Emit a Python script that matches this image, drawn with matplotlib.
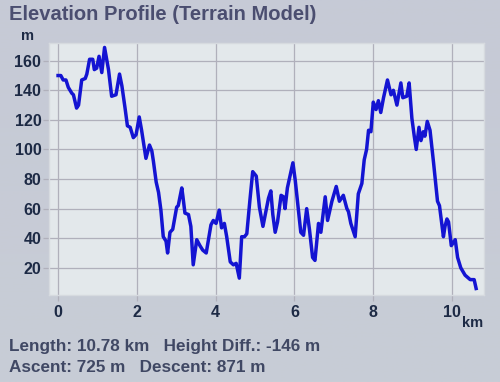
import numpy as np
import matplotlib
matplotlib.use("Agg")
import matplotlib.pyplot as plt

distance_km = [0.0, 0.07, 0.13, 0.2, 0.26, 0.35, 0.39, 0.47, 0.52, 0.6, 0.69, 0.73, 0.8, 0.88,
               0.92, 0.98, 1.04, 1.11, 1.18, 1.24, 1.28, 1.36, 1.47, 1.56, 1.62, 1.70, 1.76,
               1.83, 1.91, 1.98, 2.06, 2.12, 2.23, 2.32, 2.38, 2.42, 2.49, 2.55, 2.61, 2.67,
               2.74, 2.78, 2.84, 2.91, 3.01, 3.05, 3.14, 3.17, 3.22, 3.31, 3.37, 3.43, 3.52,
               3.60, 3.67, 3.76, 3.81, 3.88, 3.94, 4.01, 4.09, 4.15, 4.22, 4.28, 4.37, 4.45,
               4.52, 4.60, 4.66, 4.73, 4.79, 4.87, 4.94, 5.03, 5.11, 5.20, 5.28, 5.34, 5.40,
               5.45, 5.51, 5.57, 5.66, 5.72, 5.76, 5.82, 5.96, 6.02, 6.10, 6.16, 6.23, 6.31,
               6.38, 6.46, 6.52, 6.61, 6.67, 6.78, 6.84, 6.95, 7.06, 7.14, 7.24, 7.33, 7.37,
               7.43, 7.54, 7.62, 7.71, 7.77, 7.83, 7.88, 7.94, 8.00, 8.07, 8.13, 8.19, 8.26,
               8.36, 8.45, 8.51, 8.60, 8.70, 8.75, 8.85, 8.91, 8.98, 9.04, 9.09, 9.16, 9.21,
               9.27, 9.31, 9.37, 9.44, 9.53, 9.63, 9.68, 9.78, 9.82, 9.87, 9.91, 9.98, 10.08,
               10.14, 10.22, 10.33, 10.46, 10.56, 10.61]
elevation_m = [150, 150, 147, 147, 142, 138, 137, 128, 130, 147, 148, 151, 161, 161,
               154, 155, 163, 152, 169, 160, 154, 136, 137, 151, 143, 128, 116,
               115, 108, 110, 122, 113, 94, 103, 99, 92, 78, 71, 59, 41,
               38, 30, 44, 46, 61, 62, 74, 68, 57, 56, 48, 22, 39,
               35, 32, 30, 38, 49, 52, 50, 59, 47, 50, 41, 24, 22,
               23, 13, 41, 41, 43, 66, 85, 82, 61, 48, 59, 67, 72,
               56, 44, 51, 69, 68, 60, 74, 91, 79, 59, 44, 42, 60,
               46, 27, 25, 50, 44, 68, 52, 65, 75, 65, 69, 60, 58,
               50, 41, 70, 77, 93, 100, 113, 112, 132, 127, 133, 125, 135,
               147, 137, 140, 130, 145, 135, 136, 145, 121, 109, 100, 115, 106,
               112, 109, 119, 113, 91, 65, 62, 41, 48, 53, 51, 35, 39,
               27, 20, 15, 12, 12, 6]

x_ticks = [0, 2, 4, 6, 8, 10]
y_ticks = [20, 40, 60, 80, 100, 120, 140, 160]

title = "Elevation Profile (Terrain Model)"
stats_line1 = "Length: 10.78 km   Height Diff.: -146 m"
stats_line2 = "Ascent: 725 m   Descent: 871 m"

plt.rcParams['font.family'] = ['Liberation Sans', 'DejaVu Sans']

W, H = 500, 382
fig = plt.figure(figsize=(W / 100, H / 100), dpi=100)

# background gradient
bg = fig.add_axes([0, 0, 1, 1])
bg.set_axis_off()
grad = np.linspace(0, 1, 256).reshape(-1, 1)
c_top = np.array([0xc6, 0xca, 0xd6]) / 255
c_bot = np.array([0xc8, 0xcd, 0xd6]) / 255
img = c_top[None, None, :] * (1 - grad[:, :, None]) + c_bot[None, None, :] * grad[:, :, None]
bg.imshow(img, aspect='auto', extent=[0, 1, 0, 1])
bg.set_xlim(0, 1)
bg.set_ylim(0, 1)

ax = fig.add_axes([49 / W, 1 - 295 / H, (484 - 49) / W, (295 - 43) / H])
ax.set_facecolor('#e3e8eb')
ax.plot(distance_km, elevation_m, color='#1414d2', lw=2.5, solid_joinstyle='round')
ax.set_xlim(-0.23, 10.81)
ax.set_ylim(1.6, 172)
ax.set_xticks(x_ticks)
ax.set_yticks(y_ticks)
ax.grid(True, color='#b0b0bb', lw=0.9)
ax.set_axisbelow(True)
for s in ax.spines.values():
    s.set_color('#d6dadf')
    s.set_linewidth(1)
ax.tick_params(axis='both', colors='#b0b0bb', length=4, width=0.9,
               labelcolor='#1d2a45', labelsize=11.5)
ax.tick_params(axis='y', pad=1.5)
ax.tick_params(axis='x', pad=3.5)
for lab in ax.get_xticklabels() + ax.get_yticklabels():
    lab.set_fontweight('bold')

fig.text(9 / W, 1 - 14 / H, title, fontsize=14.5, fontweight='bold',
         color='#4b4e70', ha='left', va='center')
fig.text(28 / W, 1 - 36 / H, "m", fontsize=10.5, fontweight='bold',
         color='#1d2a45', ha='center', va='center')
fig.text(473 / W, 1 - 323 / H, "km", fontsize=10.5, fontweight='bold',
         color='#1d2a45', ha='center', va='center')
fig.text(9 / W, 1 - 346 / H, stats_line1, fontsize=12.3, fontweight='bold',
         color='#404864', ha='left', va='center')
fig.text(9 / W, 1 - 367 / H, stats_line2, fontsize=12.3, fontweight='bold',
         color='#404864', ha='left', va='center')

fig.savefig('out.png', dpi=100)
